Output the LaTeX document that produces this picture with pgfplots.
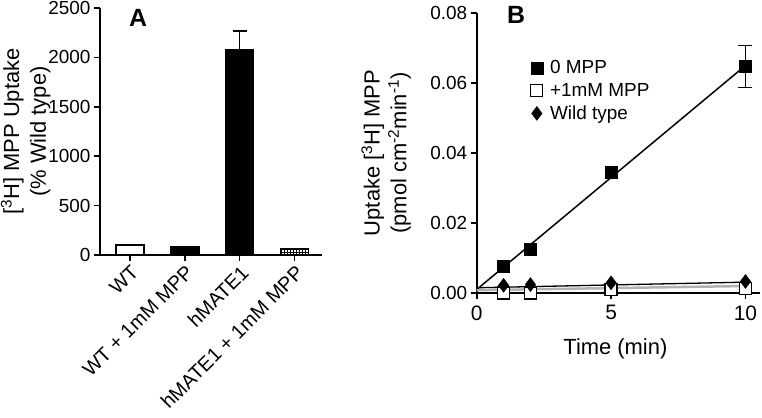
\documentclass[border=0pt]{standalone}
\usepackage{fontspec}
\setmainfont{Liberation Sans}
\usepackage{pgfplots}
\pgfplotsset{compat=1.18}
\usetikzlibrary{patterns}
\pgfplotsset{
  common/.style={
    scale only axis,
    anchor=south west,
    axis x line*=bottom,
    axis y line*=left,
    axis line style={line width=1.6bp,-},
    every tick/.style={line width=1.6bp,black},
    tick align=outside,
    major tick length=6bp,
    tick label style={font=\fontsize{19}{21}\selectfont},
    label style={font=\fontsize{22}{27}\selectfont},
    /pgf/number format/assume math mode=true,
  }
}
\begin{document}
\begin{tikzpicture}[x=1bp,y=1bp]
\useasboundingbox (0,0) rectangle (762,417);
% Panel A
\begin{axis}[common,
  at={(100bp,162bp)},
  width=222bp, height=247bp,
  xmin=-0.545, xmax=3.5,
  ymin=0, ymax=2500,
  ytick={0,500,1000,1500,2000,2500},
  yticklabel style={/pgf/number format/set thousands separator={}},
  xtick={0,1,2,3},
  xticklabels={WT, WT + 1mM MPP, hMATE1, hMATE1 + 1mM MPP},
  xticklabel style={rotate=45, anchor=north east, inner sep=2bp, font=\fontsize{20}{22}\selectfont},
  ylabel={[\textsuperscript{3}H] MPP Uptake\\(\% Wild type)},
  ylabel style={align=center, at={(axis description cs:-0.335,0.5)}, anchor=center},
  clip=false,
]
\addplot[ybar, bar width=28bp, bar shift=0pt, fill=white, draw=black, line width=1.6bp] coordinates {(0,100)};
\addplot[ybar, bar width=28bp, bar shift=0pt, fill=black, draw=black, line width=1.6bp] coordinates {(1,80)};
\addplot[ybar, bar width=28bp, bar shift=0pt, fill=black, draw=black, line width=1.6bp,
  error bars/.cd, y dir=plus, y explicit,
  error bar style={line width=1.6bp},
  error mark options={line width=1.6bp, mark size=7bp, rotate=90}]
  coordinates {(2,2080) +- (0,190)};
\addplot[ybar, bar width=28bp, bar shift=0pt, pattern=grid, draw=black, line width=1.6bp] coordinates {(3,60)};
\end{axis}
\node[font=\bfseries\fontsize{25}{27}\selectfont] at (138,399) {A};
% Panel B
\begin{axis}[common,
  at={(476.7bp,124bp)},
  width=283bp, height=280bp,
  xmin=0, xmax=10.53,
  ymin=0, ymax=0.08,
  xtick={0,5,10},
  ytick={0,0.02,0.04,0.06,0.08},
  yticklabel style={/pgf/number format/.cd, fixed, fixed zerofill, precision=2},
  xticklabel style={font=\fontsize{21}{23}\selectfont, yshift=-3bp},
  scaled y ticks=false,
  xlabel={Time (min)},
  ylabel={Uptake [\textsuperscript{3}H] MPP\\(pmol cm\textsuperscript{-2}min\textsuperscript{-1})},
  ylabel style={align=center, at={(axis description cs:-0.32,0.5)}, anchor=center},
  xlabel style={at={(axis description cs:0.49,-0.2)}, anchor=center},
  clip=false,
  legend style={draw=none, fill=none, at={(0.18,0.845)}, anchor=north west,
    font=\fontsize{19}{21}\selectfont, row sep=4bp,
    legend cell align=left},
  legend image code/.code={\draw[#1] plot coordinates {(0.3cm,0cm)};},
]
% regression lines
\addplot[black, line width=1.5bp, forget plot] coordinates {(0,0.001) (10,0.065)};
\addplot[gray!60, line width=2.5bp, forget plot] coordinates {(0,0.0008) (10,0.002)};
\addplot[black, line width=1.3bp, forget plot] coordinates {(0,0.0015) (10,0.0031)};
% points
\addplot[only marks, mark=square*, mark size=6bp, black,
  error bars/.cd, y dir=both, y explicit,
  error bar style={line width=1.3bp},
  error mark options={line width=1.3bp, mark size=7bp, rotate=90}]
  coordinates {(1,0.0076) (2,0.0124) (5,0.0345) (10,0.0648) +- (0,0.006)};
\addlegendentry{\ 0 MPP}
\addplot[only marks, mark=square*, mark size=6bp, draw=black, fill=white, mark options={line width=1.2bp}]
  coordinates {(1,0.0) (2,0.0) (5,0.001) (10,0.0012)};
\addlegendentry{\ +1mM MPP}
\addplot[only marks, mark=diamond*, mark size=7bp, black]
  coordinates {(1,0.0022) (2,0.0024) (5,0.0029) (10,0.0033)};
\addlegendentry{\ Wild type}
\end{axis}
\node[font=\bfseries\fontsize{25}{27}\selectfont] at (516,402) {B};
\end{tikzpicture}
\end{document}
